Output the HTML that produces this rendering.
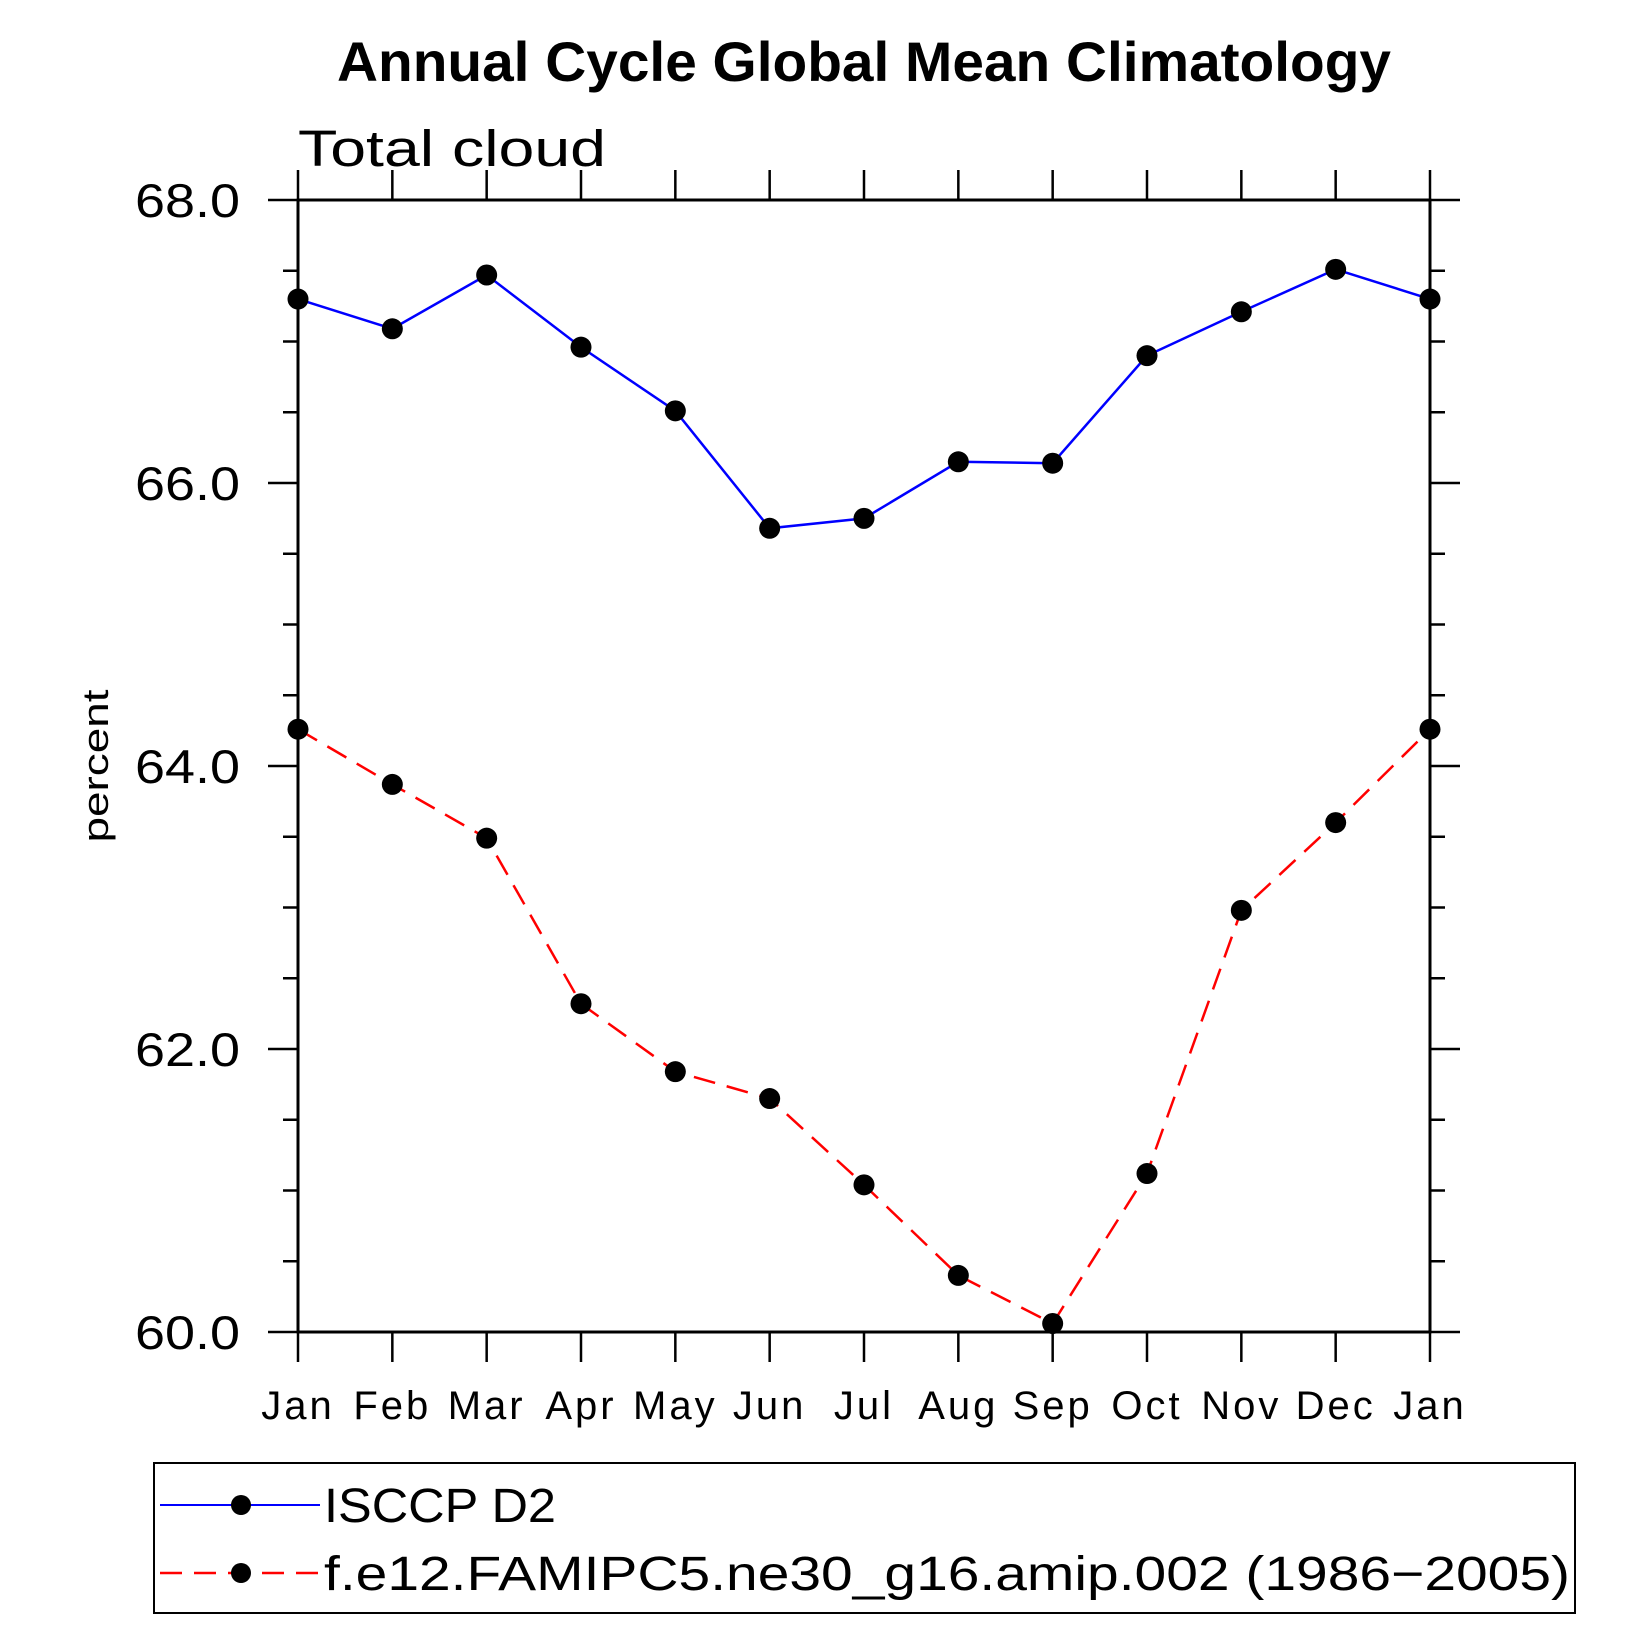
<!DOCTYPE html>
<html><head><meta charset="utf-8"><style>
html,body{margin:0;padding:0;background:#fff;}
svg{display:block;font-family:"Liberation Sans",sans-serif;}
</style></head><body>
<svg id="chart" width="1652" height="1652" viewBox="0 0 1652 1652">
<text x="337" y="81" textLength="1054" lengthAdjust="spacingAndGlyphs" font-size="56" font-weight="bold">Annual Cycle Global Mean Climatology</text>
<text x="298" y="166" textLength="308" lengthAdjust="spacingAndGlyphs" font-size="51">Total cloud</text>
<text transform="translate(108,766) rotate(-90)" text-anchor="middle" textLength="153" lengthAdjust="spacingAndGlyphs" font-size="36">percent</text>
<g id="axes"></g>
<g id="series"></g>
<rect x="154" y="1463" width="1421" height="150" fill="none" stroke="#000" stroke-width="2"/>
<g>
<line x1="160" y1="1505" x2="320" y2="1505" stroke="#0000ff" stroke-width="2"/>
<circle cx="241" cy="1505" r="10" fill="#000"/>
<text x="324" y="1522" textLength="232" lengthAdjust="spacingAndGlyphs" font-size="48">ISCCP D2</text>
</g>
<g>
<line x1="160" y1="1573" x2="320" y2="1573" stroke="#ff0000" stroke-width="2.5" stroke-dasharray="22,12"/>
<circle cx="241" cy="1573" r="10" fill="#000"/>
<text x="324" y="1590" textLength="1246" lengthAdjust="spacingAndGlyphs" font-size="48">f.e12.FAMIPC5.ne30_g16.amip.002 (1986−2005)</text>
</g>
</svg>
<script>
const months = ["Jan","Feb","Mar","Apr","May","Jun","Jul","Aug","Sep","Oct","Nov","Dec","Jan"];
const isccp = [67.30,67.09,67.47,66.96,66.51,65.68,65.75,66.15,66.14,66.90,67.21,67.51,67.30];
const model = [64.26,63.87,63.49,62.32,61.84,61.65,61.04,60.40,60.06,61.12,62.98,63.60,64.26];
const yTicks = [60,62,64,66,68];
const yTickLabels = ["60.0","62.0","64.0","66.0","68.0"];
const yMin = 60, yMax = 68;

const L=298,R=1430,T=200,B=1332;
const NS="http://www.w3.org/2000/svg";
const xs=i=>L+(R-L)*i/(months.length-1);
const ys=v=>B-(B-T)*(v-yMin)/(yMax-yMin);
function mk(tag,attrs,parent){const e=document.createElementNS(NS,tag);for(const k in attrs)e.setAttribute(k,attrs[k]);parent.appendChild(e);return e;}
const ax=document.getElementById('axes');
const frame=mk('rect',{x:L,y:T,width:R-L,height:B-T,fill:'none',stroke:'#000','stroke-width':3},ax);


for(let v=yMin;v<=yMax+1e-9;v+=0.5){
  const major=Math.abs(v-Math.round(v/2)*2)<1e-9;
  const len=major?30:15;const y=ys(v);
  mk('line',{x1:L-len,y1:y,x2:L,y2:y,stroke:'#000','stroke-width':2.5},ax);
  mk('line',{x1:R,y1:y,x2:R+len,y2:y,stroke:'#000','stroke-width':2.5},ax);
}
yTicks.forEach((v,i)=>{
  const t=mk('text',{x:135,y:ys(v)+17,textLength:105,lengthAdjust:'spacingAndGlyphs','font-size':47},ax);
  t.textContent=yTickLabels[i];
  
  
});
months.forEach((m,i)=>{
  const x=xs(i);
  mk('line',{x1:x,y1:B,x2:x,y2:B+30,stroke:'#000','stroke-width':2.5},ax);
  mk('line',{x1:x,y1:T-30,x2:x,y2:T,stroke:'#000','stroke-width':2.5},ax);
  const t=mk('text',{x:x,y:1419,'text-anchor':'middle','font-size':40,'letter-spacing':3},ax);
  t.textContent=m;
  
  
});
const sg=document.getElementById('series');
function series(vals,color,dash,name){
  const g=mk('g',{},sg);
  
  
  const pts=vals.map((v,i)=>xs(i)+','+ys(v)).join(' ');
  const a={points:pts,fill:'none',stroke:color,'stroke-width':2.5};
  if(dash)a['stroke-dasharray']=dash;
  mk('polyline',a,g);
  vals.forEach((v,i)=>{
    const c=mk('circle',{cx:xs(i),cy:ys(v),r:10.5,fill:'#000'},g);
    
    
  });
}
series(isccp,'#0000ff',null,'isccp-series');
series(model,'#ff0000','22,12','model-series');
</script>
</body></html>
